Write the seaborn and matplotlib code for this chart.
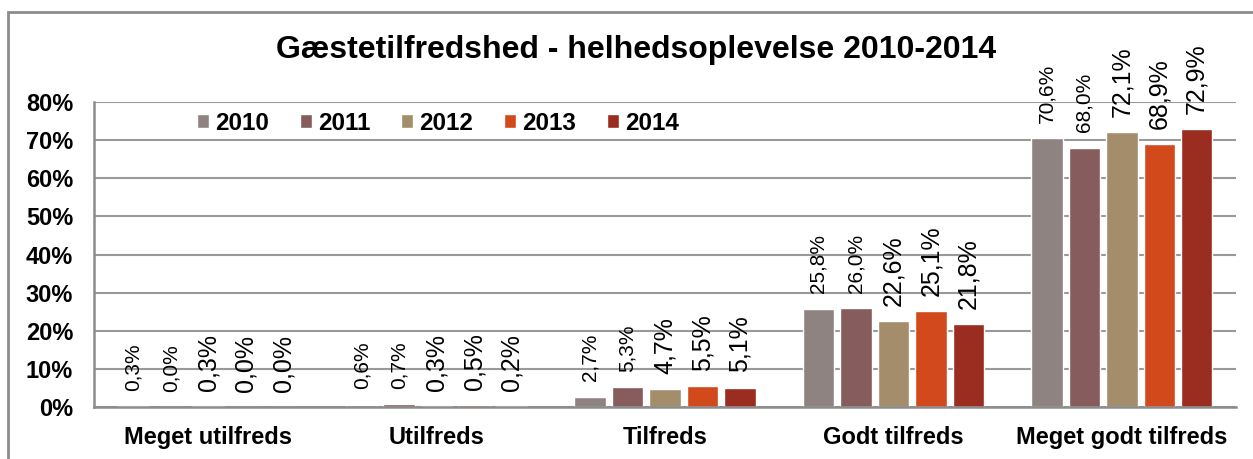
import pandas as pd
import numpy as np
import matplotlib.pyplot as plt
import seaborn as sns
from matplotlib.patches import Rectangle, Patch

# Data
categories = ["Meget utilfreds", "Utilfreds", "Tilfreds", "Godt tilfreds", "Meget godt tilfreds"]
years = ["2010", "2011", "2012", "2013", "2014"]
v2010 = [0.3, 0.6, 2.7, 25.8, 70.6]
v2011 = [0.0, 0.7, 5.3, 26.0, 68.0]
v2012 = [0.3, 0.3, 4.7, 22.6, 72.1]
v2013 = [0.0, 0.5, 5.5, 25.1, 68.9]
v2014 = [0.0, 0.2, 5.1, 21.8, 72.9]
colors = ["#8F8382", "#865C5C", "#A38D6A", "#D24A1C", "#9B2C20"]

df = pd.DataFrame({"Kategori": categories * 5,
                   "Aar": [y for y in years for _ in categories],
                   "Andel": v2010 + v2011 + v2012 + v2013 + v2014})

sns.set_style("white")
plt.rcParams["font.family"] = ["Liberation Sans", "DejaVu Sans"]
plt.rcParams["text.color"] = "black"
plt.rcParams["xtick.color"] = "black"
plt.rcParams["ytick.color"] = "black"

fig = plt.figure(figsize=(12.53, 4.59), dpi=100)
ax = fig.add_axes([94 / 1253, 1 - 407 / 459, (1236 - 94) / 1253, (407 - 102) / 459])

sns.barplot(data=df, x="Kategori", y="Andel", hue="Aar", palette=colors,
            width=0.82, gap=0.16, ax=ax, legend=False, saturation=1)

# Data labels
for i, cont in enumerate(ax.containers):
    size = 15 if i < 2 else 18
    for bar, val in zip(cont, df[df["Aar"] == years[i]]["Andel"]):
        txt = f"{val:.1f}%".replace(".", ",")
        ax.annotate(txt, (bar.get_x() + bar.get_width() / 2, bar.get_height()),
                    xytext=(0, 11), textcoords="offset points",
                    ha="center", va="bottom", rotation=90, fontsize=size)

ax.set_ylim(0, 80)
ax.set_yticks(np.arange(0, 81, 10))
ax.set_yticklabels([f"{t}%" for t in range(0, 81, 10)], fontsize=17, fontweight="bold")
ax.set_xticks(range(len(categories)))
ax.set_xticklabels(categories, fontsize=17, fontweight="bold")
ax.tick_params(axis="y", length=0, pad=15)
ax.tick_params(axis="x", length=0, pad=14)
ax.set_xlabel("")
ax.set_ylabel("")
ax.set_xlim(-0.5, 4.5)
ax.yaxis.grid(True, color="#999999", linewidth=1.5)
ax.set_axisbelow(True)
for s in ["top", "right"]:
    ax.spines[s].set_visible(False)
for s in ["left", "bottom"]:
    ax.spines[s].set_color("#8c8c8c")
    ax.spines[s].set_linewidth(1.8)

handles = [Patch(facecolor=c) for c in colors]
ax.legend(handles, years, loc="center left", bbox_to_anchor=(0.09, 0.931), ncol=5,
          frameon=False, borderpad=0, borderaxespad=0,
          handlelength=0.5, handleheight=0.5, handletextpad=0.25,
          columnspacing=1.27, prop={"weight": "bold", "size": 17.5})

fig.text(0.508, 0.89, "Gæstetilfredshed - helhedsoplevelse 2010-2014",
         ha="center", va="center", fontsize=23, fontweight="bold")

fig.patches.append(Rectangle((8 / 1253, -0.1), 1.2, 1 - 12 / 459 + 0.1,
                             transform=fig.transFigure, fill=False,
                             edgecolor="#8c8c8c", linewidth=2))

plt.savefig("out.png", dpi=100)
